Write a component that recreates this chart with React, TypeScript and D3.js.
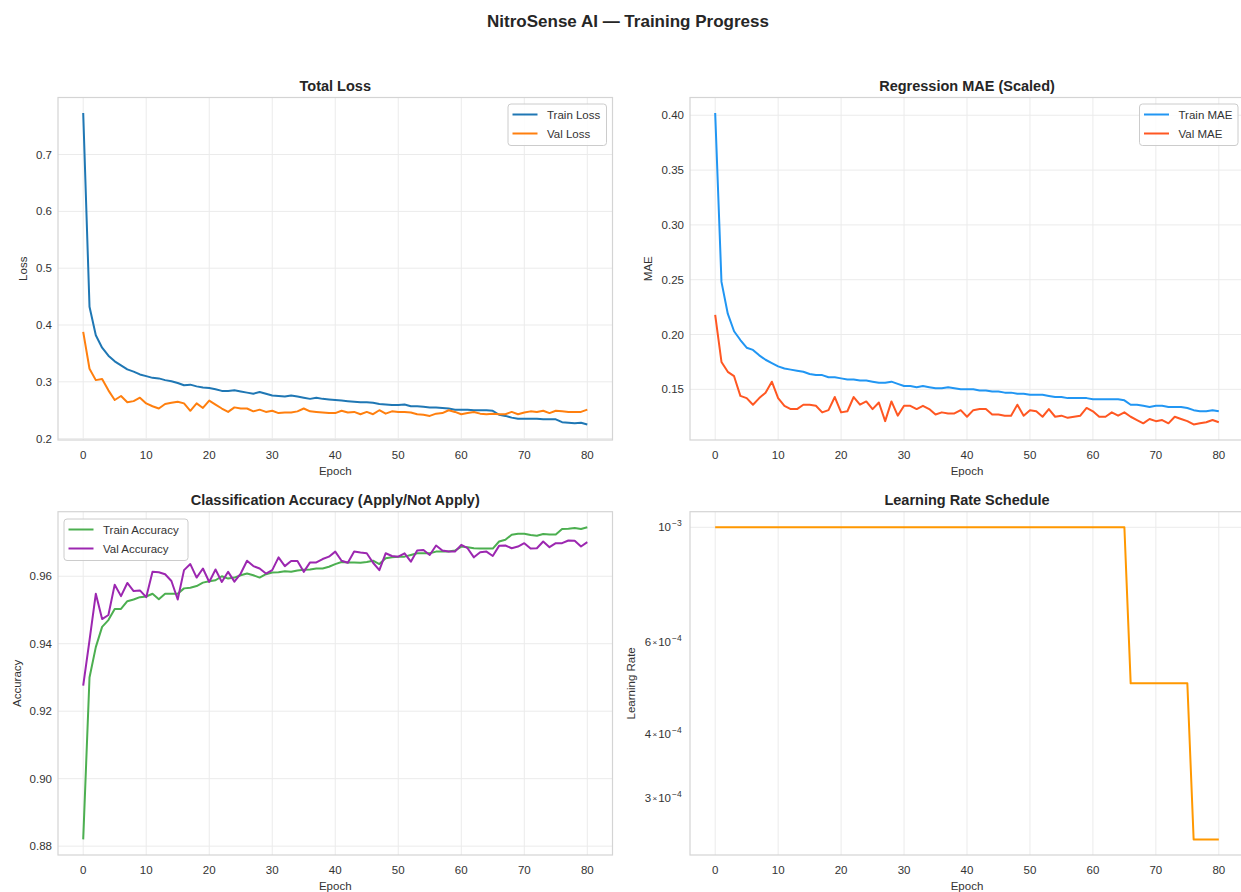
import React from "react";
import * as d3 from "d3";

// ---------------- DATA ----------------
const trainLoss = [
  0.773, 0.432, 0.382, 0.36, 0.346, 0.336, 0.329, 0.322, 0.318, 0.313,
  0.31, 0.307, 0.306, 0.303, 0.301, 0.298, 0.294, 0.295, 0.292, 0.29,
  0.289, 0.287, 0.284, 0.284, 0.285, 0.283, 0.281, 0.279, 0.282, 0.279,
  0.276, 0.275, 0.274, 0.276, 0.274, 0.272, 0.27, 0.272, 0.27, 0.269,
  0.268, 0.267, 0.266, 0.265, 0.264, 0.264, 0.263, 0.261, 0.26, 0.259,
  0.259, 0.26, 0.257, 0.257, 0.256, 0.255, 0.255, 0.254, 0.253, 0.251,
  0.251, 0.251, 0.25, 0.25, 0.25, 0.249, 0.242, 0.24, 0.237, 0.235,
  0.235, 0.235, 0.235, 0.234, 0.234, 0.234, 0.229, 0.228, 0.227, 0.228,
  0.225,
];
const valLoss = [
  0.388, 0.323, 0.303, 0.305, 0.285, 0.268, 0.275, 0.264, 0.266, 0.272,
  0.262, 0.257, 0.253, 0.261, 0.263, 0.265, 0.262, 0.249, 0.262, 0.254,
  0.267, 0.26, 0.253, 0.247, 0.255, 0.253, 0.253, 0.248, 0.251, 0.247,
  0.249, 0.245, 0.246, 0.246, 0.248, 0.253, 0.248, 0.247, 0.246, 0.245,
  0.245, 0.249, 0.246, 0.247, 0.243, 0.247, 0.243, 0.25, 0.244, 0.248,
  0.247, 0.247, 0.246, 0.243, 0.242, 0.24, 0.244, 0.245, 0.25, 0.247,
  0.243, 0.245, 0.247, 0.244, 0.243, 0.244, 0.243, 0.243, 0.247, 0.243,
  0.246, 0.248, 0.247, 0.249, 0.245, 0.249, 0.248, 0.247, 0.247, 0.247,
  0.251,
];
const trainMAE = [
  0.402, 0.248, 0.219, 0.203, 0.195, 0.188, 0.186, 0.181, 0.177, 0.174,
  0.171, 0.169, 0.168, 0.167, 0.166, 0.164, 0.163, 0.163, 0.161, 0.161,
  0.16, 0.159, 0.159, 0.158, 0.158, 0.157, 0.156, 0.156, 0.157, 0.155,
  0.153, 0.153, 0.152, 0.153, 0.152, 0.151, 0.151, 0.152, 0.151, 0.15,
  0.15, 0.15, 0.149, 0.149, 0.148, 0.148, 0.147, 0.147, 0.146, 0.146,
  0.145, 0.145, 0.145, 0.144, 0.143, 0.143, 0.142, 0.142, 0.142, 0.142,
  0.141, 0.141, 0.141, 0.141, 0.141, 0.14, 0.136, 0.136, 0.135, 0.134,
  0.135, 0.135, 0.134, 0.134, 0.134, 0.133, 0.131, 0.13, 0.13, 0.131,
  0.13,
];
const valMAE = [
  0.218, 0.175, 0.166, 0.162, 0.144, 0.142, 0.136, 0.142, 0.147, 0.157,
  0.142, 0.135, 0.132, 0.132, 0.136, 0.136, 0.135, 0.129, 0.131, 0.143,
  0.129, 0.13, 0.143, 0.136, 0.139, 0.132, 0.138, 0.121, 0.139, 0.126,
  0.135, 0.135, 0.132, 0.135, 0.132, 0.127, 0.129, 0.128, 0.128, 0.131,
  0.125, 0.131, 0.132, 0.132, 0.127, 0.127, 0.126, 0.126, 0.136, 0.126,
  0.131, 0.13, 0.125, 0.132, 0.125, 0.126, 0.124, 0.125, 0.126, 0.133,
  0.13, 0.125, 0.125, 0.129, 0.126, 0.129, 0.125, 0.122, 0.119, 0.123,
  0.121, 0.122, 0.119, 0.125, 0.123, 0.121, 0.118, 0.119, 0.12, 0.122,
  0.12,
];
const trainAcc = [
  0.882, 0.93, 0.939, 0.945, 0.947, 0.9503, 0.9503, 0.9526, 0.9531, 0.9538,
  0.954, 0.9548, 0.9532, 0.9548, 0.9548, 0.9548, 0.9564, 0.9566, 0.9571, 0.9581,
  0.9585, 0.9588, 0.96, 0.9593, 0.9596, 0.9603, 0.9608, 0.9603, 0.9596, 0.9606,
  0.9611, 0.9612, 0.9615, 0.9613, 0.9617, 0.9619, 0.962, 0.9623, 0.9623, 0.9628,
  0.9636, 0.9642, 0.9641, 0.9641, 0.964, 0.9642, 0.9646, 0.9636, 0.9653, 0.9656,
  0.9658, 0.9658, 0.9663, 0.9668, 0.9668, 0.9668, 0.9673, 0.9673, 0.9673, 0.9676,
  0.9688, 0.9686, 0.9683, 0.9682, 0.9682, 0.9682, 0.9703, 0.9708, 0.9723, 0.9726,
  0.9726, 0.9722, 0.972, 0.9725, 0.9724, 0.9724, 0.974, 0.9741, 0.9743, 0.974,
  0.9745,
];
const valAcc = [
  0.9276, 0.941, 0.9548, 0.9473, 0.9485, 0.9575, 0.9541, 0.958, 0.9556, 0.9558,
  0.9538, 0.9613, 0.9612, 0.9606, 0.9586, 0.9531, 0.9618, 0.9636, 0.9596, 0.9623,
  0.9583, 0.962, 0.9583, 0.9613, 0.9584, 0.9608, 0.9646, 0.963, 0.9623, 0.9608,
  0.9618, 0.9656, 0.963, 0.9645, 0.9645, 0.9613, 0.9641, 0.9641, 0.9651, 0.9658,
  0.9673, 0.9646, 0.964, 0.9673, 0.967, 0.9668, 0.964, 0.9618, 0.9668, 0.966,
  0.9658, 0.9668, 0.9643, 0.9676, 0.9678, 0.9663, 0.9691, 0.9676, 0.9673, 0.9673,
  0.9693, 0.9683, 0.9656, 0.9671, 0.9673, 0.966, 0.969, 0.9691, 0.9683, 0.9688,
  0.9698, 0.9682, 0.9683, 0.9703, 0.9686, 0.9698, 0.9698, 0.9706, 0.9705, 0.9688,
  0.9701,
];
const learningRate = [
  1e-3, 1e-3, 1e-3, 1e-3, 1e-3, 1e-3, 1e-3, 1e-3, 1e-3, 1e-3,
  1e-3, 1e-3, 1e-3, 1e-3, 1e-3, 1e-3, 1e-3, 1e-3, 1e-3, 1e-3,
  1e-3, 1e-3, 1e-3, 1e-3, 1e-3, 1e-3, 1e-3, 1e-3, 1e-3, 1e-3,
  1e-3, 1e-3, 1e-3, 1e-3, 1e-3, 1e-3, 1e-3, 1e-3, 1e-3, 1e-3,
  1e-3, 1e-3, 1e-3, 1e-3, 1e-3, 1e-3, 1e-3, 1e-3, 1e-3, 1e-3,
  1e-3, 1e-3, 1e-3, 1e-3, 1e-3, 1e-3, 1e-3, 1e-3, 1e-3, 1e-3,
  1e-3, 1e-3, 1e-3, 1e-3, 1e-3, 1e-3, 5e-4, 5e-4, 5e-4, 5e-4,
  5e-4, 5e-4, 5e-4, 5e-4, 5e-4, 5e-4, 2.5e-4, 2.5e-4, 2.5e-4, 2.5e-4,
  2.5e-4,
];

const epochTicks = [0, 10, 20, 30, 40, 50, 60, 70, 80];
const lossTicks = [0.2, 0.3, 0.4, 0.5, 0.6, 0.7];
const maeTicks = [0.15, 0.2, 0.25, 0.3, 0.35, 0.4];
const accTicks = [0.88, 0.9, 0.92, 0.94, 0.96];
const lrMajorTicks = [1e-3];
const lrMinorTicks = [
  { v: 6e-4, m: "6" },
  { v: 4e-4, m: "4" },
  { v: 3e-4, m: "3" },
];

// ---------------- STYLE ----------------
const FONT = "'Liberation Sans', Arial, Helvetica, sans-serif";
const TXT = "#333333";
const GRID = "#ebebeb";
const SPINE = "#d4d4d4";

type Series = { values: number[]; color: string; label: string };

type Box = { x0: number; x1: number; y0: number; y1: number };

const LEFT = { x0: 58, x1: 612.5 };
const RIGHT = { x0: 690, x1: 1244 };
const TOP = { y0: 97.5, y1: 440 };
const BOTTOM = { y0: 511.7, y1: 855 };

function padDomain(series: Series[], log = false): [number, number] {
  const all = series.flatMap((s) => s.values);
  const [mn, mx] = d3.extent(all) as [number, number];
  if (log) {
    const lmn = Math.log10(mn);
    const lmx = Math.log10(mx);
    const p = (lmx - lmn) * 0.05;
    return [Math.pow(10, lmn - p), Math.pow(10, lmx + p)];
  }
  const p = (mx - mn) * 0.05;
  return [mn - p, mx + p];
}

function Legend({
  x,
  y,
  w,
  series,
}: {
  x: number;
  y: number;
  w: number;
  series: Series[];
}) {
  if (series.length === 0) return null;
  return (
    <g>
      <rect
        x={x}
        y={y}
        width={w}
        height={series.length * 19 + 3.5}
        rx={3}
        fill="white"
        fillOpacity={0.85}
        stroke="#cccccc"
        strokeWidth={1}
      />
      {series.map((s, i) => (
        <g key={s.label}>
          <line
            x1={x + 4.5}
            x2={x + 29.5}
            y1={y + 10.5 + i * 19}
            y2={y + 10.5 + i * 19}
            stroke={s.color}
            strokeWidth={2}
          />
          <text
            x={x + 39}
            y={y + 10.5 + i * 19}
            dy="0.35em"
            fontSize={11.5}
            fill={TXT}
            fontFamily={FONT}
          >
            {s.label}
          </text>
        </g>
      ))}
    </g>
  );
}

function Panel({
  box,
  title,
  yLabel,
  yLabelX,
  series,
  yTicks,
  fmt,
  log,
  legend,
  xLabelY,
}: {
  box: Box;
  title: string;
  yLabel: string;
  yLabelX: number;
  series: Series[];
  yTicks: number[];
  fmt: (v: number) => string;
  log?: boolean;
  legend: { x: number; y: number; w: number };
  xLabelY: number;
}) {
  const { x0, x1, y0, y1 } = box;
  const xScale = d3.scaleLinear().domain([-4, 84]).range([x0, x1]);
  const dom = padDomain(series, log);
  const yScale = log
    ? d3.scaleLog().domain(dom).range([y1, y0])
    : d3.scaleLinear().domain(dom).range([y1, y0]);
  const line = d3
    .line<number>()
    .x((_, i) => xScale(i))
    .y((d) => yScale(d));
  const cx = (x0 + x1) / 2;
  return (
    <g>
      {/* grid */}
      {epochTicks.map((t) => (
        <line
          key={"gx" + t}
          x1={xScale(t)}
          x2={xScale(t)}
          y1={y0}
          y2={y1}
          stroke={GRID}
          strokeWidth={1}
        />
      ))}
      {yTicks.map((t) => (
        <line
          key={"gy" + t}
          x1={x0}
          x2={x1}
          y1={yScale(t)}
          y2={yScale(t)}
          stroke={GRID}
          strokeWidth={1}
        />
      ))}
      {/* data */}
      {series.map((s, i) => (
        <path
          key={"p" + i}
          d={line(s.values) || ""}
          fill="none"
          stroke={s.color}
          strokeWidth={2}
          strokeLinejoin="round"
          strokeLinecap="butt"
        />
      ))}
      {/* spines */}
      <rect
        x={x0}
        y={y0}
        width={x1 - x0}
        height={y1 - y0}
        fill="none"
        stroke={SPINE}
        strokeWidth={1.2}
      />
      {/* x tick labels */}
      {epochTicks.map((t) => (
        <text
          key={"xt" + t}
          x={xScale(t)}
          y={y1 + 19}
          textAnchor="middle"
          fontSize={11.5}
          fill={TXT}
          fontFamily={FONT}
        >
          {t}
        </text>
      ))}
      {/* y tick labels */}
      {!log &&
        yTicks.map((t) => (
          <text
            key={"yt" + t}
            x={x0 - 6}
            y={yScale(t)}
            dy="0.35em"
            textAnchor="end"
            fontSize={11.5}
            fill={TXT}
            fontFamily={FONT}
          >
            {fmt(t)}
          </text>
        ))}
      {log && (
        <g fontFamily={FONT} fill={TXT}>
          {lrMajorTicks.map((t) => (
            <g key={"lm" + t}>
              <text
                x={x0 - 19}
                y={yScale(t)}
                dy="0.35em"
                textAnchor="end"
                fontSize={11.5}
              >
                10
              </text>
              <text
                x={x0 - 18}
                y={yScale(t) - 1}
                textAnchor="start"
                fontSize={8.5}
              >
                −3
              </text>
            </g>
          ))}
          {lrMinorTicks.map((t) => (
            <g key={"ln" + t.v}>
              <text
                x={x0 - 19}
                y={yScale(t.v)}
                dy="0.35em"
                textAnchor="end"
                fontSize={11.5}
              >
                {t.m}
                <tspan fontSize={8} dx={1.5} dy={-1}>
                  ×
                </tspan>
                <tspan dx={1} dy={1}>
                  10
                </tspan>
              </text>
              <text
                x={x0 - 18}
                y={yScale(t.v) - 1}
                textAnchor="start"
                fontSize={8.5}
              >
                −4
              </text>
            </g>
          ))}
        </g>
      )}
      {/* titles */}
      <text
        x={cx}
        y={y0 - 7}
        textAnchor="middle"
        fontSize={14.5}
        fontWeight="bold"
        fill="#262626"
        fontFamily={FONT}
      >
        {title}
      </text>
      <text
        x={cx}
        y={xLabelY}
        textAnchor="middle"
        fontSize={11.5}
        fill={TXT}
        fontFamily={FONT}
      >
        Epoch
      </text>
      <text
        transform={`translate(${yLabelX},${(y0 + y1) / 2}) rotate(-90)`}
        textAnchor="middle"
        fontSize={11.5}
        fill={TXT}
        fontFamily={FONT}
      >
        {yLabel}
      </text>
      <Legend
        x={legend.x}
        y={legend.y}
        w={legend.w}
        series={series.filter((s) => s.label !== "")}
      />
    </g>
  );
}

export default function App() {
  const f1 = d3.format(".1f");
  const f2 = d3.format(".2f");
  return (
    <svg
      width={1241}
      height={892}
      viewBox="0 0 1241 892"
      style={{ display: "block", position: "absolute", left: 0, top: 0, background: "white" }}
    >
      <rect x={0} y={0} width={1241} height={892} fill="white" />
      <text
        x={628}
        y={27}
        textAnchor="middle"
        fontSize={17}
        fontWeight="bold"
        fill="#262626"
        fontFamily={FONT}
      >
        NitroSense AI — Training Progress
      </text>
      <Panel
        box={{ ...LEFT, ...TOP }}
        title="Total Loss"
        yLabel="Loss"
        yLabelX={27}
        series={[
          { values: trainLoss, color: "#1f77b4", label: "Train Loss" },
          { values: valLoss, color: "#ff7f0e", label: "Val Loss" },
        ]}
        yTicks={lossTicks}
        fmt={f1}
        legend={{ x: 508, y: 104, w: 98.5 }}
        xLabelY={475}
      />
      <Panel
        box={{ ...RIGHT, ...TOP }}
        title="Regression MAE (Scaled)"
        yLabel="MAE"
        yLabelX={652}
        series={[
          { values: trainMAE, color: "#2196F3", label: "Train MAE" },
          { values: valMAE, color: "#FF5722", label: "Val MAE" },
        ]}
        yTicks={maeTicks}
        fmt={f2}
        legend={{ x: 1139.5, y: 104, w: 98.5 }}
        xLabelY={475}
      />
      <Panel
        box={{ ...LEFT, ...BOTTOM }}
        title="Classification Accuracy (Apply/Not Apply)"
        yLabel="Accuracy"
        yLabelX={21}
        series={[
          { values: trainAcc, color: "#4CAF50", label: "Train Accuracy" },
          { values: valAcc, color: "#9C27B0", label: "Val Accuracy" },
        ]}
        yTicks={accTicks}
        fmt={f2}
        legend={{ x: 64, y: 519, w: 124 }}
        xLabelY={890}
      />
      <Panel
        box={{ ...RIGHT, ...BOTTOM }}
        title="Learning Rate Schedule"
        yLabel="Learning Rate"
        yLabelX={635}
        series={[{ values: learningRate, color: "#FF9800", label: "" }]}
        yTicks={lrMajorTicks}
        fmt={f2}
        log
        legend={{ x: 0, y: 0, w: 0 }}
        xLabelY={890}
      />
    </svg>
  );
}
